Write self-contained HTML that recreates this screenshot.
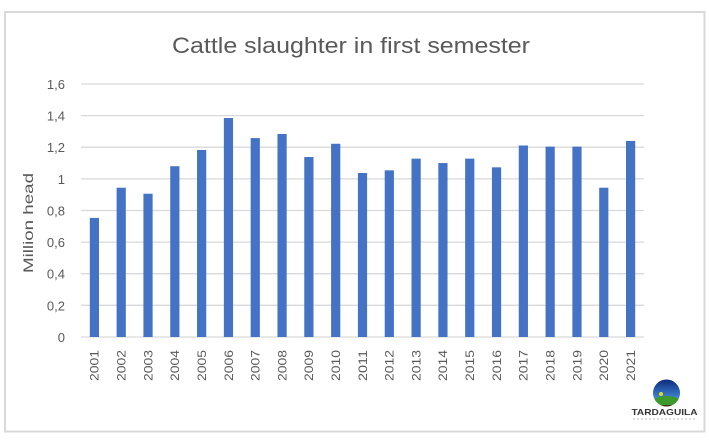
<!DOCTYPE html>
<html><head><meta charset="utf-8"><style>
html,body{margin:0;padding:0;background:#fff;}
svg{display:block;}
text{font-family:"Liberation Sans",sans-serif;}
</style></head><body>
<svg width="709" height="440" viewBox="0 0 709 440" xmlns="http://www.w3.org/2000/svg">
<rect x="0" y="0" width="709" height="440" fill="#fff"/>
<rect x="5" y="12" width="699.5" height="419.5" fill="#fff" stroke="#d9d9d9" stroke-width="2"/>
<text x="351" y="53" font-size="22" fill="#595959" text-anchor="middle" textLength="358" lengthAdjust="spacingAndGlyphs">Cattle slaughter in first semester</text>
<g stroke="#d9d9d9" stroke-width="1.3">
<line x1="81" y1="84" x2="644" y2="84"/>
<line x1="81" y1="115.6" x2="644" y2="115.6"/>
<line x1="81" y1="147.2" x2="644" y2="147.2"/>
<line x1="81" y1="178.9" x2="644" y2="178.9"/>
<line x1="81" y1="210.5" x2="644" y2="210.5"/>
<line x1="81" y1="242.1" x2="644" y2="242.1"/>
<line x1="81" y1="273.7" x2="644" y2="273.7"/>
<line x1="81" y1="305.3" x2="644" y2="305.3"/>
<line x1="81" y1="337" x2="644" y2="337"/>
</g>
<g font-size="13" fill="#595959" text-anchor="end">
<text x="65" y="89">1,6</text>
<text x="65" y="120.6">1,4</text>
<text x="65" y="152.2">1,2</text>
<text x="65" y="183.9">1</text>
<text x="65" y="215.5">0,8</text>
<text x="65" y="247.1">0,6</text>
<text x="65" y="278.7">0,4</text>
<text x="65" y="310.3">0,2</text>
<text x="65" y="342">0</text>
</g>
<text transform="translate(33,223) rotate(-90)" font-size="14" fill="#595959" text-anchor="middle" textLength="100" lengthAdjust="spacingAndGlyphs">Million head</text>
<g fill="#4472c4" id="bars"></g>
<g id="xl" font-size="12" fill="#595959"></g>
<defs>
<linearGradient id="sky" x1="0" y1="0" x2="0" y2="1">
<stop offset="0" stop-color="#0b2a7a"/><stop offset="0.6" stop-color="#3a78c8"/><stop offset="1" stop-color="#8fc0ea"/>
</linearGradient>
<clipPath id="cc"><circle cx="666.5" cy="393" r="13.5"/></clipPath>
</defs>
<circle cx="666.5" cy="393" r="13.5" fill="url(#sky)"/>
<g clip-path="url(#cc)">
<ellipse cx="666.5" cy="404" rx="16" ry="8" fill="#3c9a2a"/>
<ellipse cx="666.5" cy="410" rx="16" ry="5" fill="#4a2e1a"/>
</g>
<circle cx="661" cy="394" r="2" fill="#d8e020"/>
<text x="664.5" y="415" font-size="8.5" font-weight="bold" fill="#333" text-anchor="middle" textLength="66" lengthAdjust="spacingAndGlyphs">TARDAGUILA</text>
<line x1="633" y1="419" x2="697" y2="419" stroke="#bbb" stroke-width="1" stroke-dasharray="2,2"/>
<script>
var v=[0.753,0.944,0.906,1.08,1.183,1.385,1.258,1.284,1.138,1.222,1.037,1.054,1.128,1.100,1.128,1.073,1.211,1.204,1.204,0.944,1.24];
var ns="http://www.w3.org/2000/svg",b=document.getElementById("bars"),xl=document.getElementById("xl");
var x0=81,w=563/21,y0=337,s=253/1.6;
for(var i=0;i<21;i++){
 var cx=x0+w*(i+0.5),h=v[i]*s;
 var r=document.createElementNS(ns,"rect");
 r.setAttribute("x",(cx-4.6).toFixed(2));r.setAttribute("width","9.2");
 r.setAttribute("y",(y0-h).toFixed(2));r.setAttribute("height",h.toFixed(2));
 b.appendChild(r);
 var t=document.createElementNS(ns,"text");
 t.setAttribute("transform","translate("+(cx+4.3).toFixed(2)+",381) rotate(-90)");
 t.setAttribute("textLength","31");t.setAttribute("lengthAdjust","spacingAndGlyphs");
 t.textContent=String(2001+i);
 xl.appendChild(t);
}
</script>
</svg>
</body></html>
